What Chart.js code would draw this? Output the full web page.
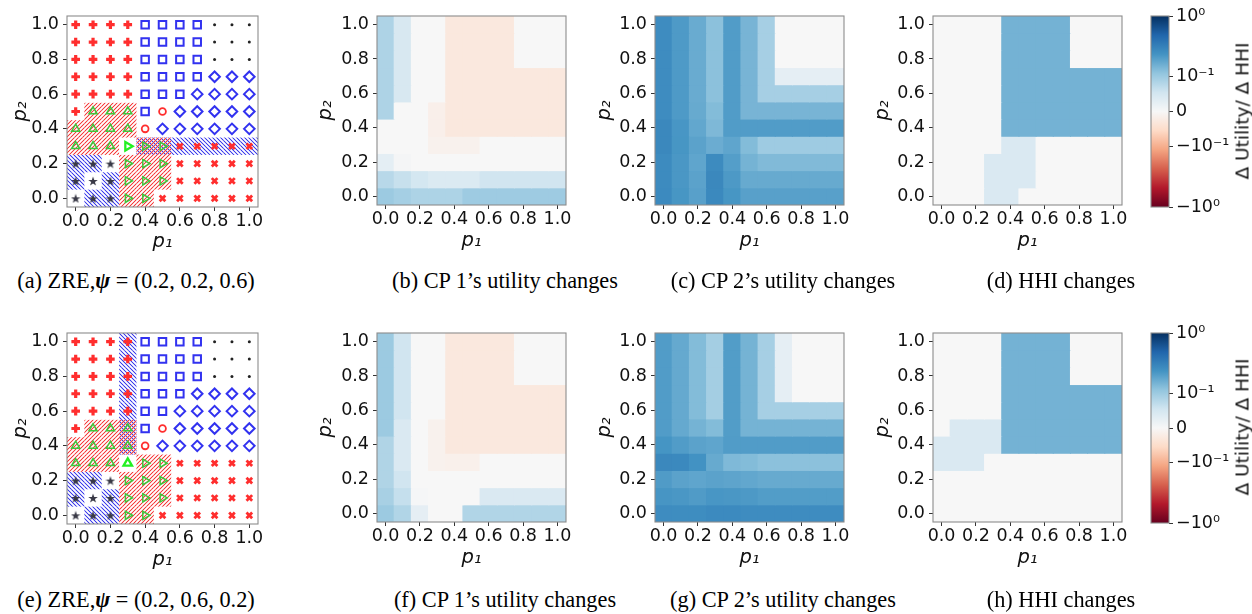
<!DOCTYPE html>
<html>
<head>
<meta charset="utf-8">
<script src="https://cdn.jsdelivr.net/npm/chart.js@4.4.1/dist/chart.umd.min.js"></script>
<style>
  body { margin: 0; background: #fff; }
  #stage { position: relative; width: 1252px; height: 614px; overflow: hidden; background: #fff; }
  #stage canvas { position: absolute; }
  .cap { position: absolute; font-family: 'Liberation Serif', 'Times New Roman', serif; font-size: 22.3px; color: #000; white-space: nowrap; transform: translate(-50%, -50%); }
  .cblabel { position: absolute; font-family: 'DejaVu Sans', sans-serif; font-size: 18.5px; color: #111; white-space: nowrap; transform: translate(-50%, -50%) rotate(-90deg); }
</style>
</head>
<body>
<div id="stage"></div>
<script>
const P_GRID = [0.0, 0.1, 0.2, 0.3, 0.4, 0.5, 0.6, 0.7, 0.8, 0.9, 1.0]
const AXIS_TICKS = [0.0, 0.2, 0.4, 0.6, 0.8, 1.0]
const CB_TICKS = [1, 0.1, 0, -0.1, -1]
const CB_LABELS = ['10⁰', '10⁻¹', '0', '−10⁻¹', '−10⁰']

// ZRE outcome per cell, rows go from p2 = 1.0 (top) down to p2 = 0.0
// P plus, S square, o dot, D diamond, C circle, ^ up-triangle, > right-triangle, X cross, * star, R/U highlighted triangles
const ZRE_A_MARKERS = [
  'PPPPSSSSooo',
  'PPPPSSSSooo',
  'PPPPSSSSooo',
  'PPPPSSSSDDD',
  'PPPPSSSDDDD',
  'P^^^SCDDDDD',
  '^^^^CDDDDDD',
  '^^^R>>XXXXX',
  '***>>>XXXXX',
  '***>>>XXXXX',
  '***>>XXXXXX',
]
// hatching: r red, b blue, x both
const ZRE_A_HATCH = [
  '...........',
  '...........',
  '...........',
  '...........',
  '...........',
  '.rrr.......',
  'rrrr.......',
  'rrr.xxbbbbb',
  'bb.rrr.....',
  'b.brrr.....',
  '.bbrr......',
]
const ZRE_B_MARKERS = [
  'PPPPSSSSooo',
  'PPPPSSSSooo',
  'PPPPSSSSooo',
  'PPPPSSSDDDD',
  'PPPPSSDDDDD',
  'P^^^SCDDDDD',
  '^^^^CDDDDDD',
  '^^^U>>XXXXX',
  '***>>>XXXXX',
  '***>>>XXXXX',
  '***>>XXXXXX',
]
const ZRE_B_HATCH = [
  '...b.......',
  '...b.......',
  '...b.......',
  '...b.......',
  '...b.......',
  '.rrx.......',
  'rrrx.......',
  'rrr.rr.....',
  'bb.rrr.....',
  'b.brrr.....',
  '.bbrr......',
]

// utility / HHI changes, rows from p2 = 1.0 down to p2 = 0.0, columns p1 = 0.0 .. 1.0
const CP1_A = [
  [0.085, 0.045, 0, 0, -0.029, -0.029, -0.029, -0.029, 0, 0, 0],
  [0.085, 0.045, 0, 0, -0.029, -0.029, -0.029, -0.029, 0, 0, 0],
  [0.085, 0.045, 0, 0, -0.029, -0.029, -0.029, -0.029, 0, 0, 0],
  [0.085, 0.045, 0, 0, -0.029, -0.029, -0.029, -0.029, -0.029, -0.029, -0.029],
  [0.085, 0.045, 0, 0, -0.029, -0.029, -0.029, -0.029, -0.029, -0.029, -0.029],
  [0.085, 0, 0, -0.015, -0.029, -0.029, -0.029, -0.029, -0.029, -0.029, -0.029],
  [0, 0, 0, -0.015, -0.029, -0.029, -0.029, -0.029, -0.029, -0.029, -0.029],
  [0, 0, 0, -0.011, -0.011, -0.011, 0, 0, 0, 0, 0],
  [0.027, 0.005, 0, 0, 0, 0, 0, 0, 0, 0, 0],
  [0.077, 0.064, 0.05, 0.04, 0.04, 0.04, 0.055, 0.055, 0.055, 0.055, 0.055],
  [0.101, 0.093, 0.086, 0.086, 0.086, 0.099, 0.099, 0.099, 0.099, 0.099, 0.099],
]
const CP2_A = [
  [0.197, 0.157, 0.138, 0.114, 0.155, 0.128, 0.092, 0, 0, 0, 0],
  [0.197, 0.157, 0.138, 0.114, 0.155, 0.128, 0.092, 0, 0, 0, 0],
  [0.197, 0.157, 0.138, 0.114, 0.155, 0.128, 0.092, 0, 0, 0, 0],
  [0.197, 0.157, 0.138, 0.114, 0.155, 0.128, 0.092, 0.026, 0.026, 0.026, 0.026],
  [0.197, 0.157, 0.138, 0.114, 0.155, 0.128, 0.092, 0.092, 0.092, 0.092, 0.092],
  [0.197, 0.157, 0.14, 0.12, 0.155, 0.128, 0.128, 0.128, 0.128, 0.128, 0.128],
  [0.215, 0.163, 0.143, 0.124, 0.155, 0.155, 0.155, 0.155, 0.155, 0.155, 0.155],
  [0.215, 0.165, 0.148, 0.137, 0.145, 0.12, 0.099, 0.099, 0.099, 0.099, 0.099],
  [0.2, 0.16, 0.145, 0.2, 0.153, 0.13, 0.122, 0.122, 0.122, 0.122, 0.122],
  [0.2, 0.16, 0.148, 0.215, 0.158, 0.14, 0.14, 0.14, 0.14, 0.14, 0.14],
  [0.205, 0.165, 0.15, 0.21, 0.165, 0.15, 0.15, 0.15, 0.15, 0.15, 0.15],
]
const HHI_A = [
  [0, 0, 0, 0, 0.131, 0.131, 0.131, 0.131, 0, 0, 0],
  [0, 0, 0, 0, 0.131, 0.131, 0.131, 0.131, 0, 0, 0],
  [0, 0, 0, 0, 0.131, 0.131, 0.131, 0.131, 0, 0, 0],
  [0, 0, 0, 0, 0.131, 0.131, 0.131, 0.131, 0.131, 0.131, 0.131],
  [0, 0, 0, 0, 0.131, 0.131, 0.131, 0.131, 0.131, 0.131, 0.131],
  [0, 0, 0, 0, 0.131, 0.131, 0.131, 0.131, 0.131, 0.131, 0.131],
  [0, 0, 0, 0, 0.131, 0.131, 0.131, 0.131, 0.131, 0.131, 0.131],
  [0, 0, 0, 0, 0.042, 0.042, 0, 0, 0, 0, 0],
  [0, 0, 0, 0.042, 0.042, 0.042, 0, 0, 0, 0, 0],
  [0, 0, 0, 0.042, 0.042, 0.042, 0, 0, 0, 0, 0],
  [0, 0, 0, 0.042, 0.042, 0, 0, 0, 0, 0, 0],
]
const CP1_B = [
  [0.101, 0.055, 0, 0, -0.029, -0.029, -0.029, -0.029, 0, 0, 0],
  [0.101, 0.055, 0, 0, -0.029, -0.029, -0.029, -0.029, 0, 0, 0],
  [0.101, 0.055, 0, 0, -0.029, -0.029, -0.029, -0.029, 0, 0, 0],
  [0.101, 0.055, 0, 0, -0.029, -0.029, -0.029, -0.029, -0.029, -0.029, -0.029],
  [0.101, 0.055, 0, 0, -0.029, -0.029, -0.029, -0.029, -0.029, -0.029, -0.029],
  [0.101, 0.042, 0, -0.012, -0.029, -0.029, -0.029, -0.029, -0.029, -0.029, -0.029],
  [0.084, 0.042, 0, -0.012, -0.029, -0.029, -0.029, -0.029, -0.029, -0.029, -0.029],
  [0.084, 0.042, 0, -0.012, -0.014, -0.014, 0, 0, 0, 0, 0],
  [0.084, 0.055, 0, 0, 0, 0, 0, 0, 0, 0, 0],
  [0.091, 0.065, 0.003, 0, 0, 0, 0.042, 0.042, 0.042, 0.042, 0.042],
  [0.101, 0.083, 0.026, 0, 0, 0.083, 0.083, 0.083, 0.083, 0.083, 0.083],
]
const CP2_B = [
  [0.155, 0.141, 0.12, 0.094, 0.154, 0.13, 0.092, 0.026, 0, 0, 0],
  [0.155, 0.141, 0.12, 0.094, 0.154, 0.13, 0.092, 0.026, 0, 0, 0],
  [0.155, 0.141, 0.12, 0.094, 0.154, 0.13, 0.092, 0.026, 0, 0, 0],
  [0.155, 0.141, 0.12, 0.094, 0.154, 0.13, 0.092, 0.026, 0, 0, 0],
  [0.155, 0.141, 0.12, 0.094, 0.154, 0.13, 0.092, 0.092, 0.092, 0.092, 0.092],
  [0.155, 0.141, 0.13, 0.12, 0.154, 0.13, 0.13, 0.13, 0.13, 0.13, 0.13],
  [0.168, 0.155, 0.148, 0.145, 0.155, 0.155, 0.155, 0.155, 0.155, 0.155, 0.155],
  [0.215, 0.21, 0.175, 0.14, 0.123, 0.12, 0.114, 0.114, 0.114, 0.114, 0.114],
  [0.156, 0.148, 0.145, 0.148, 0.146, 0.143, 0.14, 0.14, 0.14, 0.14, 0.14],
  [0.166, 0.16, 0.156, 0.163, 0.16, 0.158, 0.154, 0.154, 0.154, 0.154, 0.154],
  [0.197, 0.195, 0.195, 0.205, 0.205, 0.197, 0.197, 0.197, 0.197, 0.197, 0.197],
]
const HHI_B = [
  [0, 0, 0, 0, 0.131, 0.131, 0.131, 0.131, 0, 0, 0],
  [0, 0, 0, 0, 0.131, 0.131, 0.131, 0.131, 0, 0, 0],
  [0, 0, 0, 0, 0.131, 0.131, 0.131, 0.131, 0, 0, 0],
  [0, 0, 0, 0, 0.131, 0.131, 0.131, 0.131, 0.131, 0.131, 0.131],
  [0, 0, 0, 0, 0.131, 0.131, 0.131, 0.131, 0.131, 0.131, 0.131],
  [0, 0.042, 0.042, 0.042, 0.131, 0.131, 0.131, 0.131, 0.131, 0.131, 0.131],
  [0.042, 0.042, 0.042, 0.042, 0.131, 0.131, 0.131, 0.131, 0.131, 0.131, 0.131],
  [0.042, 0.042, 0.042, 0, 0, 0, 0, 0, 0, 0, 0],
  [0, 0, 0, 0, 0, 0, 0, 0, 0, 0, 0],
  [0, 0, 0, 0, 0, 0, 0, 0, 0, 0, 0],
  [0, 0, 0, 0, 0, 0, 0, 0, 0, 0, 0],
]

const CAPTIONS_TOP = ['(a) ZRE,<b><i>ψ</i></b> = (0.2, 0.2, 0.6)', '(b) CP 1’s utility changes', '(c) CP 2’s utility changes', '(d) HHI changes']
const CAPTIONS_BOTTOM = ['(e) ZRE,<b><i>ψ</i></b> = (0.2, 0.6, 0.2)', '(f) CP 1’s utility changes', '(g) CP 2’s utility changes', '(h) HHI changes']
const CB_TITLE = 'Δ Utility/ Δ HHI'

// ---- colour map (RdBu, symlog norm) ----
const RDBU = ['#67001f', '#b2182b', '#d6604d', '#f4a582', '#fddbc7', '#f7f7f7', '#d1e5f0', '#92c5de', '#4393c3', '#2166ac', '#053061']
const LINTHRESH = 0.16
const LINSCALE = 1 / (1 - 1 / 10)

const hexRgb = h => [1, 3, 5].map(i => parseInt(h.slice(i, i + 2), 16))
function cmap(t) {
  t = Math.min(1, Math.max(0, t))
  const s = t * (RDBU.length - 1)
  const i = Math.min(RDBU.length - 2, Math.floor(s))
  const f = s - i
  const a = hexRgb(RDBU[i]), b = hexRgb(RDBU[i + 1])
  return `rgb(${a.map((v, k) => Math.round(v + (b[k] - v) * f)).join(',')})`
}
function symlog(v) {
  const a = Math.abs(v)
  const y = a <= LINTHRESH ? a / LINTHRESH * LINSCALE : LINSCALE + Math.log10(a / LINTHRESH)
  return Math.sign(v) * y
}
const norm = v => symlog(v) / symlog(1)
const colorFor = v => cmap((norm(v) + 1) / 2)

// ---- helpers ----
Chart.defaults.font.family = "'DejaVu Sans', sans-serif"
Chart.defaults.color = '#111'

const stage = document.getElementById('stage')
const TICK_PX = 17.5
const TITLE_PX = 19.5
const TITLE_LH = TITLE_PX * 1.2

function addCanvas(x, y, w, h) {
  const c = document.createElement('canvas')
  c.width = w; c.height = h
  c.style.left = x + 'px'; c.style.top = y + 'px'
  c.style.width = w + 'px'; c.style.height = h + 'px'
  stage.appendChild(c)
  return c
}

const frame = {
  id: 'frame',
  afterDraw(chart) {
    const { ctx, chartArea: a } = chart
    ctx.save()
    ctx.strokeStyle = '#8c8c8c'
    ctx.lineWidth = 1.1
    ctx.strokeRect(a.left, a.top, a.width, a.height)
    ctx.restore()
  }
}

// pixel exact diagonal hatch tile
function hatchPattern(rgb, dir) {
  const s = 4
  const tile = document.createElement('canvas')
  tile.width = tile.height = s
  const g = tile.getContext('2d')
  const img = g.createImageData(s, s)
  for (let y = 0; y < s; y++) {
    for (let x = 0; x < s; x++) {
      const d = dir === '/' ? (x + y) % s : (x - y + s) % s
      const alpha = d === 0 ? 1 : (d === 1 || d === s - 1) ? 0.22 : 0
      const k = (y * s + x) * 4
      img.data[k] = rgb[0]; img.data[k + 1] = rgb[1]; img.data[k + 2] = rgb[2]
      img.data[k + 3] = Math.round(alpha * 255)
    }
  }
  g.putImageData(img, 0, 0)
  return g.createPattern(tile, 'repeat')
}
const RED_HATCH = hatchPattern([245, 60, 60], '/')
const BLUE_HATCH = hatchPattern([60, 60, 235], '\\')

function starImage(size, color) {
  const c = document.createElement('canvas')
  c.width = c.height = size
  const g = c.getContext('2d')
  g.beginPath()
  for (let i = 0; i < 10; i++) {
    const r = i % 2 ? size * 0.2 : size * 0.5
    const a = -Math.PI / 2 + i * Math.PI / 5
    g.lineTo(size / 2 + r * Math.cos(a), size / 2 + 0.5 + r * Math.sin(a))
  }
  g.closePath()
  g.fillStyle = color
  g.fill()
  return c
}

const RED = '#ff2e2e', BLUE = '#3232f0', GREEN = '#3cc83c', LIME = '#22f022'
const HOLLOW = 'rgba(0,0,0,0)'
const MARKER_STYLE = {
  'P': { pointStyle: 'cross', pointRadius: 4.3, pointBorderWidth: 3.2, pointBorderColor: RED },
  'S': { pointStyle: 'rect', pointRadius: 5.3, pointBorderWidth: 2, pointBorderColor: BLUE, pointBackgroundColor: HOLLOW },
  'o': { pointStyle: 'circle', pointRadius: 1.5, pointBorderWidth: 0, pointBackgroundColor: '#222' },
  'D': { pointStyle: 'rectRot', pointRadius: 5.3, pointBorderWidth: 2, pointBorderColor: BLUE, pointBackgroundColor: HOLLOW },
  'C': { pointStyle: 'circle', pointRadius: 3.4, pointBorderWidth: 1.8, pointBorderColor: RED, pointBackgroundColor: HOLLOW },
  '^': { pointStyle: 'triangle', pointRadius: 4.7, pointBorderWidth: 1.5, pointBorderColor: GREEN, pointBackgroundColor: HOLLOW },
  '>': { pointStyle: 'triangle', pointRotation: 90, pointRadius: 4.7, pointBorderWidth: 1.5, pointBorderColor: GREEN, pointBackgroundColor: HOLLOW },
  'R': { pointStyle: 'triangle', pointRotation: 90, pointRadius: 4.9, pointBorderWidth: 2.3, pointBorderColor: LIME, pointBackgroundColor: HOLLOW },
  'U': { pointStyle: 'triangle', pointRadius: 4.9, pointBorderWidth: 2.3, pointBorderColor: LIME, pointBackgroundColor: HOLLOW },
  'X': { pointStyle: 'crossRot', pointRadius: 4, pointBorderWidth: 2.8, pointBorderColor: RED },
  '*': { pointStyle: starImage(10, '#393946'), pointRadius: 5 },
}

function geom(p) {
  const M = 66, T = 14, R = 26, B = 60
  const x0 = p.box.l - M, y0 = p.box.t - T
  const padL = p.yTitleX - x0 - TITLE_LH / 2
  const hx = p.xTitleY - (p.box.t + p.box.h) + TITLE_LH / 2
  return { x0, y0, w: M + p.box.w + R, h: T + p.box.h + B, padL, wy: M - padL, hx, padB: B - hx, T, R }
}

function axis(which, size) {
  return {
    type: 'linear', min: -0.05, max: 1.05, offset: false,
    afterBuildTicks: s => { s.ticks = AXIS_TICKS.map(v => ({ value: v })) },
    afterFit: s => { if (which === 'x') s.height = size; else s.width = size },
    ticks: { callback: v => v.toFixed(1), autoSkip: false, maxRotation: 0, padding: which === 'x' ? 2 : 4, color: '#111', font: { size: TICK_PX, lineHeight: 1 } },
    grid: { drawOnChartArea: false, drawTicks: true, tickLength: 4, tickColor: '#333', offset: false },
    border: { display: false },
    title: { display: true, text: which === 'x' ? 'p₁' : 'p₂', padding: 0, color: '#111', font: { size: TITLE_PX, style: 'italic', lineHeight: 1.2 } }
  }
}

function baseOptions(g) {
  return {
    responsive: false, animation: false, events: [], devicePixelRatio: 1,
    layout: { padding: { left: g.padL, top: g.T, right: g.R, bottom: g.padB } },
    plugins: { legend: { display: false }, tooltip: { enabled: false } },
    scales: { x: axis('x', g.hx), y: axis('y', g.wy) }
  }
}

const HALF = (P_GRID[1] - P_GRID[0]) / 2
const rowP2 = r => P_GRID[P_GRID.length - 1 - r]

function heatPanel(p) {
  const g = geom(p)
  const datasets = p.values.map((row, r) => ({
    data: row.map((v, c) => ({ x: P_GRID[c], y: [rowP2(r) - HALF, rowP2(r) + HALF] })),
    backgroundColor: row.map(colorFor),
    grouped: false, barPercentage: 1, categoryPercentage: 1, borderWidth: 0, inflateAmount: 0.5, clip: 0
  }))
  new Chart(addCanvas(g.x0, g.y0, g.w, g.h), { type: 'bar', data: { datasets }, options: baseOptions(g), plugins: [frame] })
}

function cells(rows, test) {
  const out = []
  rows.forEach((row, r) => [...row].forEach((ch, c) => { if (test(ch)) out.push({ c, r }) }))
  return out
}

function zrePanel(p) {
  const g = geom(p)
  const hatchSets = [['r', RED_HATCH], ['b', BLUE_HATCH]].map(([code, pattern]) => ({
    type: 'bar', order: 2,
    data: cells(p.hatch, ch => ch === code || ch === 'x').map(({ c, r }) => ({ x: P_GRID[c], y: [rowP2(r) - HALF, rowP2(r) + HALF] })),
    backgroundColor: pattern,
    grouped: false, barPercentage: 1, categoryPercentage: 1, borderWidth: 0, inflateAmount: 0, clip: 0
  }))
  const markerSets = Object.keys(MARKER_STYLE).map(code => ({
    type: 'scatter', order: 1,
    data: cells(p.markers, ch => ch === code).map(({ c, r }) => ({ x: P_GRID[c], y: rowP2(r) })),
    ...MARKER_STYLE[code]
  })).filter(d => d.data.length)
  new Chart(addCanvas(g.x0, g.y0, g.w, g.h), { type: 'bar', data: { datasets: [...hatchSets, ...markerSets] }, options: baseOptions(g), plugins: [frame] })
}

function colorbar(box, labelX, labelY) {
  const x0 = box.l - 6, y0 = box.t - 14, w = 6 + box.w + 70, h = 14 + box.h + 14
  new Chart(addCanvas(x0, y0, w, h), {
    type: 'bar',
    data: {
      labels: [CB_TITLE],
      datasets: [{
        data: [[-1, 1]],
        backgroundColor: c => {
          const a = c.chart.chartArea
          if (!a) return RDBU[5]
          const gr = c.chart.ctx.createLinearGradient(0, a.bottom, 0, a.top)
          RDBU.forEach((col, i) => gr.addColorStop(i / (RDBU.length - 1), col))
          return gr
        },
        barPercentage: 1, categoryPercentage: 1, borderWidth: 0, clip: 0
      }]
    },
    options: {
      responsive: false, animation: false, events: [], devicePixelRatio: 1,
      layout: { padding: { left: 6, top: 14, right: 0, bottom: 14 } },
      plugins: { legend: { display: false }, tooltip: { enabled: false } },
      scales: {
        x: { display: false },
        y: {
          position: 'right', min: -1, max: 1,
          afterBuildTicks: s => { s.ticks = CB_TICKS.map(v => ({ value: norm(v) })) },
          afterFit: s => { s.width = 70 },
          ticks: { callback: (v, i) => CB_LABELS[i], autoSkip: false, padding: 3, color: '#111', font: { size: TICK_PX, lineHeight: 1 } },
          grid: { drawOnChartArea: false, tickLength: 4, tickColor: '#333' },
          border: { display: false }
        }
      }
    },
    plugins: [frame]
  })
  const lab = document.createElement('div')
  lab.className = 'cblabel'
  lab.style.left = labelX + 'px'; lab.style.top = labelY + 'px'
  lab.textContent = CB_TITLE
  stage.appendChild(lab)
}

function caption(html, x, y) {
  const d = document.createElement('div')
  d.className = 'cap'
  d.style.left = x + 'px'; d.style.top = y + 'px'
  d.innerHTML = html
  stage.appendChild(d)
}

// ---- layout ----
zrePanel({ markers: ZRE_A_MARKERS, hatch: ZRE_A_HATCH, box: { l: 67, t: 16, w: 191, h: 191 }, yTitleX: 20.5, xTitleY: 241.5 })
heatPanel({ values: CP1_A, box: { l: 377, t: 16, w: 189, h: 189 }, yTitleX: 326, xTitleY: 240.5 })
heatPanel({ values: CP2_A, box: { l: 655, t: 16, w: 189, h: 189 }, yTitleX: 605, xTitleY: 240.5 })
heatPanel({ values: HHI_A, box: { l: 933, t: 16, w: 189, h: 189 }, yTitleX: 883, xTitleY: 240.5 })
colorbar({ l: 1151, t: 16, w: 18, h: 191 }, 1242, 111)

zrePanel({ markers: ZRE_B_MARKERS, hatch: ZRE_B_HATCH, box: { l: 67, t: 333, w: 191, h: 191 }, yTitleX: 20.5, xTitleY: 559.5 })
heatPanel({ values: CP1_B, box: { l: 377, t: 333, w: 189, h: 189 }, yTitleX: 326, xTitleY: 558 })
heatPanel({ values: CP2_B, box: { l: 655, t: 333, w: 189, h: 189 }, yTitleX: 605, xTitleY: 558 })
heatPanel({ values: HHI_B, box: { l: 933, t: 333, w: 189, h: 189 }, yTitleX: 883, xTitleY: 558 })
colorbar({ l: 1151, t: 333, w: 18, h: 190 }, 1242, 427)

const CAP_X = [136, 505, 783, 1061]
CAPTIONS_TOP.forEach((t, i) => caption(t, CAP_X[i], 281))
CAPTIONS_BOTTOM.forEach((t, i) => caption(t, CAP_X[i], 600))
</script>
</body>
</html>
